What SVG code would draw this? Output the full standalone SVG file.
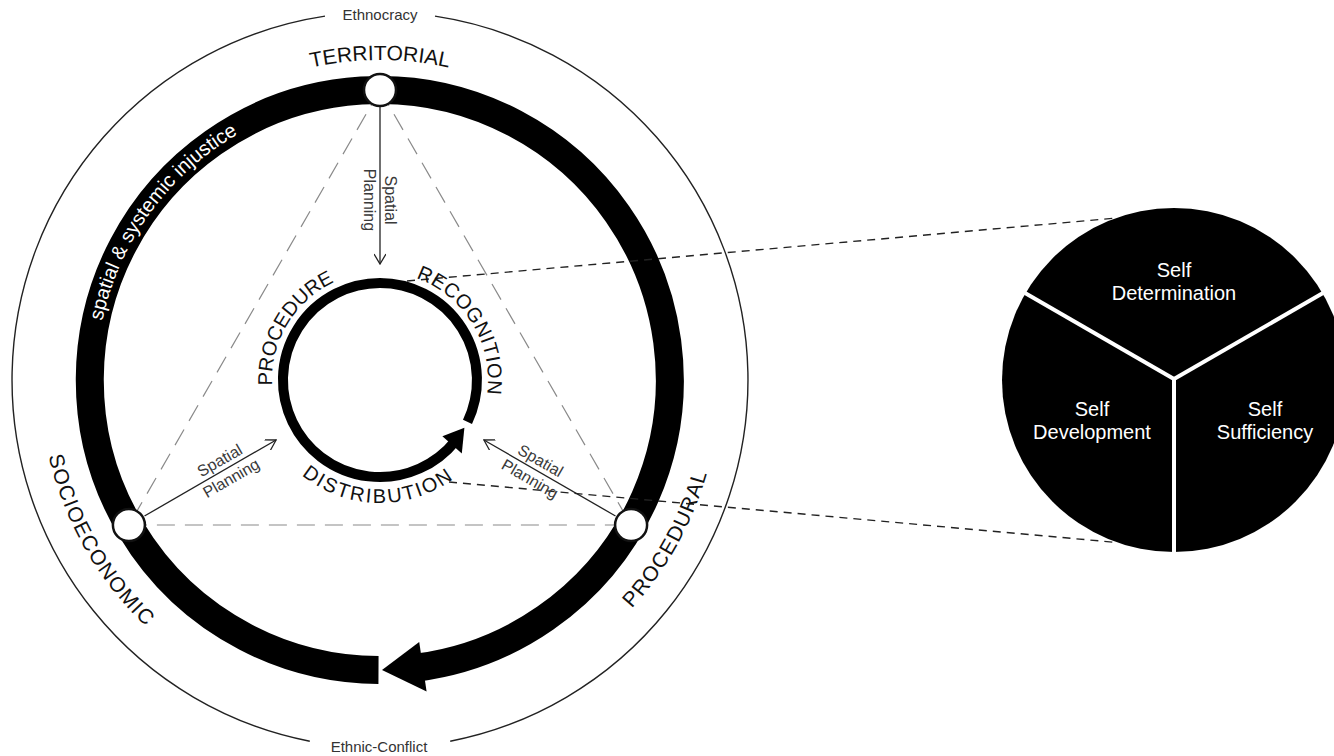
<svg xmlns="http://www.w3.org/2000/svg" xmlns:xlink="http://www.w3.org/1999/xlink" width="1334" height="756" viewBox="0 0 1334 756">
  <style>
    text { font-family: "Liberation Sans", Arial, Helvetica, sans-serif; }
    .big { font-size: 21px; fill: #111; }
    .inner { font-size: 20px; fill: #111; }
    .small { font-size: 15px; fill: #333; }
    .sp-t { font-size: 16px; fill: #3a3a3a; text-anchor: middle; }
    .pie-t { font-size: 20px; fill: #fff; text-anchor: middle; }
    .thin { fill: none; stroke: #222; stroke-width: 1.4; }
    .tri { fill: none; stroke: #8a8a8a; stroke-width: 1.2; stroke-dasharray: 18 10; }
    .zoomline { fill: none; stroke: #222; stroke-width: 1.4; stroke-dasharray: 8 6; }
    .sp { fill: none; stroke: #222; stroke-width: 1.3; marker-end: url(#openArrow); }
    .node { fill: #fff; stroke: #111; stroke-width: 2.5; }
  </style>
  <defs>
    <marker id="openArrow" viewBox="0 0 12 12" refX="11" refY="6" markerWidth="12" markerHeight="12" markerUnits="userSpaceOnUse" orient="auto">
      <path d="M1,0 L11,6 L1,12" fill="none" stroke="#222" stroke-width="1.3"/>
    </marker>
    <path id="pTerr" d="M174.3,134.9 A320,320 0 0 1 585.7,134.9"/>
    <path id="pInj" d="M96.7,399.8 A284,284 0 0 1 311.3,104.4"/>
    <path id="pSocio" d="M45.4,319.8 A340,340 0 0 0 262.6,699.1"/>
    <path id="pProc" d="M501.8,697.4 A340,340 0 0 0 713.8,315.1"/>
    <path id="pProcedure" d="M275.2,406.1 A108,108 0 0 1 353.9,275.2"/>
    <path id="pRecog" d="M396.2,273.2 A108,108 0 0 1 482.4,414.4"/>
    <path id="pDist" d="M278.0,448.8 A123,123 0 0 0 479.5,452.3"/>
  </defs>

  <rect width="1334" height="756" fill="#fff"/>

  <g id="outer-ring">
    <path class="thin" d="M435.0,16.1 A368,368 0 0 1 450.2,741.2"/>
    <path class="thin" d="M309.8,741.2 A368,368 0 0 1 325.0,16.1"/>
    <text class="small" x="380" y="20" text-anchor="middle">Ethnocracy</text>
    <text class="small" x="379" y="752" text-anchor="middle">Ethnic-Conflict</text>
  </g>

  <g id="main-cycle">
    <path d="M378.5,670 A290,290 0 1 1 417.8,667.5" fill="none" stroke="#000" stroke-width="28"/>
    <polygon points="382.0,670.0 419.2,642.1 426.6,691.5" fill="#000"/>
    <text font-size="20" fill="#fff"><textPath href="#pInj" xlink:href="#pInj" startOffset="50%" text-anchor="middle">spatial &amp; systemic injustice</textPath></text>
  </g>

  <g id="connectors">
    <line class="tri" x1="380" y1="90" x2="128.9" y2="525"/>
    <line class="tri" x1="380" y1="90" x2="631.1" y2="525"/>
    <line class="tri" x1="128.9" y1="525" x2="631.1" y2="525"/>
    <line class="sp" x1="380" y1="107" x2="380" y2="264"/>
    <line class="sp" x1="144.5" y1="516" x2="276.1" y2="440"/>
    <line class="sp" x1="615.5" y1="516" x2="483.9" y2="440"/>
    <line class="zoomline" x1="407" y1="281" x2="1117" y2="218"/>
    <line class="zoomline" x1="449" y1="482" x2="1117" y2="542.5"/>
    <g transform="translate(380,200) rotate(90)">
      <text class="sp-t" x="0" y="-5">Spatial</text>
      <text class="sp-t" x="0" y="16">Planning</text>
    </g>
    <g transform="translate(225,469.5) rotate(-30)">
      <text class="sp-t" x="0" y="-5">Spatial</text>
      <text class="sp-t" x="1" y="16">Planning</text>
    </g>
    <g transform="translate(537,470.7) rotate(30)">
      <text class="sp-t" x="-2" y="-5">Spatial</text>
      <text class="sp-t" x="-2" y="16">Planning</text>
    </g>
  </g>

  <g id="node-territorial">
    <circle class="node" cx="380" cy="90" r="16"/>
    <text class="big"><textPath href="#pTerr" xlink:href="#pTerr" startOffset="50%" text-anchor="middle">TERRITORIAL</textPath></text>
  </g>
  <g id="node-socioeconomic">
    <circle class="node" cx="128.9" cy="525" r="16"/>
    <text class="big" letter-spacing="1.3"><textPath href="#pSocio" xlink:href="#pSocio" startOffset="50%" text-anchor="middle">SOCIOECONOMIC</textPath></text>
  </g>
  <g id="node-procedural">
    <circle class="node" cx="631.1" cy="525" r="16"/>
    <text class="big" letter-spacing="1.1"><textPath href="#pProc" xlink:href="#pProc" startOffset="50%" text-anchor="middle">PROCEDURAL</textPath></text>
  </g>

  <g id="inner-cycle">
    <path d="M467.5,421.8 A97,97 0 1 0 455.4,441.0" fill="none" stroke="#000" stroke-width="10"/>
    <polygon points="464.4,427.8 461.8,453.6 442.4,436.2" fill="#000"/>
    <text class="inner"><textPath href="#pProcedure" xlink:href="#pProcedure" startOffset="50%" text-anchor="middle">PROCEDURE</textPath></text>
    <text class="inner" letter-spacing="0.6"><textPath href="#pRecog" xlink:href="#pRecog" startOffset="50%" text-anchor="middle">RECOGNITION</textPath></text>
    <text class="inner" letter-spacing="2"><textPath href="#pDist" xlink:href="#pDist" startOffset="50%" text-anchor="middle">DISTRIBUTION</textPath></text>
  </g>

  <g id="self-pie">
    <circle cx="1174" cy="380" r="172" fill="#000"/>
    <line x1="1174" y1="379" x2="1174" y2="553" stroke="#fff" stroke-width="4"/>
    <line x1="1174" y1="379" x2="1025" y2="293" stroke="#fff" stroke-width="4"/>
    <line x1="1174" y1="379" x2="1323" y2="293" stroke="#fff" stroke-width="4"/>
    <text class="pie-t" x="1174" y="277">Self</text>
    <text class="pie-t" x="1174" y="300">Determination</text>
    <text class="pie-t" x="1092" y="416">Self</text>
    <text class="pie-t" x="1092" y="439">Development</text>
    <text class="pie-t" x="1265" y="416">Self</text>
    <text class="pie-t" x="1265" y="439">Sufficiency</text>
  </g>
</svg>
